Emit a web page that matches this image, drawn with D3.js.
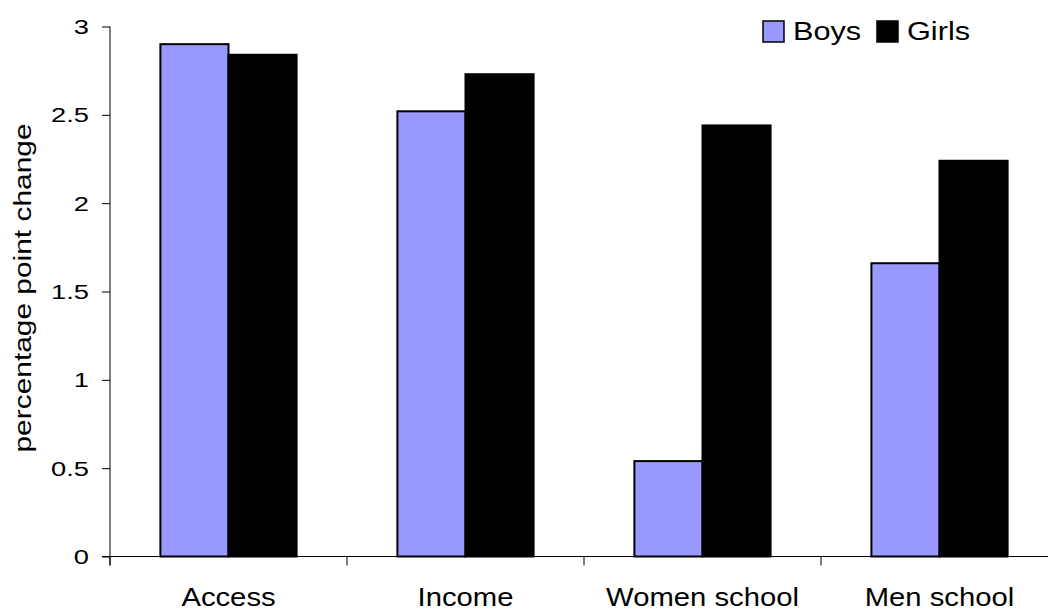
<!DOCTYPE html>
<html>
<head>
<meta charset="utf-8">
<script src="https://cdn.jsdelivr.net/npm/d3@7"></script>
<style>
  body { margin: 0; background: #fff; }
  text { font-family: "Liberation Sans", Arial, sans-serif; fill: #000; }
</style>
</head>
<body>
<div id="chart"></div>
<script>
var categories = ['Access', 'Income', 'Women school', 'Men school'];
var seriesNames = ['Boys', 'Girls'];
var seriesColors = ['#9999ff', '#000000'];
var boys = [2.9, 2.52, 0.54, 1.66];
var girls = [2.84, 2.73, 2.44, 2.24];
var yTicks = [0, 0.5, 1, 1.5, 2, 2.5, 3];

var width = 1048,
    height = 613,
    plotLeft = 110,
    plotRight = 1058,   // the plot runs past the window edge in the original
    plotTop = 26.5,
    plotBottom = 556.5
;

var rows = categories.map(function (c, i) {
  return { cat: c, values: [boys[i], girls[i]] };
});

var svg = d3.select('#chart')
  .append('svg')
    .attr('width', width)
    .attr('height', height);

var x0 = d3.scaleBand()
  .domain(categories)
  .range([plotLeft, plotRight])
  .padding(0);

var x1 = d3.scaleBand()
  .domain(seriesNames)
  .range([0, x0.bandwidth()])
  .paddingInner(0)
  .paddingOuter(0.74);

var y = d3.scaleLinear()
  .domain([0, 3])
  .range([plotBottom, plotTop]);

// bars
var groups = svg.selectAll('g.cat')
  .data(rows)
  .enter()
  .append('g')
    .classed('cat', true)
    .attr('transform', function (d) { return 'translate(' + x0(d.cat) + ',0)'; });

groups.selectAll('rect')
  .data(function (d) {
    return d.values.map(function (v, i) { return { name: seriesNames[i], v: v, color: seriesColors[i] }; });
  })
  .enter()
  .append('rect')
    .attr('x', function (d) { return x1(d.name); })
    .attr('y', function (d) { return y(d.v); })
    .attr('width', x1.bandwidth())
    .attr('height', function (d) { return plotBottom - y(d.v); })
    .style('fill', function (d) { return d.color; })
    .style('stroke', '#000')
    .style('stroke-width', 2)
    ;

// y axis: ticks from d3, labels drawn by hand so they can be stretched
var yAxis = svg.append('g')
  .attr('transform', 'translate(' + plotLeft + ',0)')
  .call(d3.axisLeft(y).tickValues(yTicks).tickSize(8).tickFormat(''));

yAxis.select('.domain').remove();
yAxis.append('line')
  .attr('x1', 0).attr('x2', 0)
  .attr('y1', plotTop).attr('y2', plotBottom + 9)
  .style('stroke', '#000');
yAxis.selectAll('.tick line').style('stroke', '#000');

svg.append('g')
  .selectAll('text')
  .data(yTicks)
  .enter()
  .append('text')
    .attr('transform', function (d) {
      return 'translate(' + (plotLeft - 21) + ',' + (y(d) + 7.5) + ') scale(1.3,1)';
    })
    .style('font-size', '21px')
    .style('text-anchor', 'end')
    .text(function (d) { return d; });

// x axis
var xAxis = svg.append('g');

xAxis.append('line')
  .attr('x1', plotLeft - 8).attr('x2', width)
  .attr('y1', plotBottom).attr('y2', plotBottom)
  .style('stroke', '#000');

xAxis.selectAll('line.xtick')
  .data(categories.concat(['end']))
  .enter()
  .append('line')
    .classed('xtick', true)
    .attr('x1', function (d, i) { return plotLeft + i * x0.step(); })
    .attr('x2', function (d, i) { return plotLeft + i * x0.step(); })
    .attr('y1', plotBottom)
    .attr('y2', plotBottom + 9)
    .style('stroke', '#000');

xAxis.selectAll('text')
  .data(categories)
  .enter()
  .append('text')
    .attr('transform', function (d) {
      return 'translate(' + (x0(d) + x0.bandwidth() / 2) + ',606) scale(1.17,1)';
    })
    .style('font-size', '25px')
    .style('text-anchor', 'middle')
    .text(function (d) { return d; });

// y label
svg.append('text')
  .attr('transform', 'translate(31,288) rotate(-90)')
  .attr('textLength', 329)
  .attr('lengthAdjust', 'spacingAndGlyphs')
  .style('font-size', '23px')
  .style('text-anchor', 'middle')
  .text('percentage point change');

// legend
var legendX = [763, 877];
var legend = svg.selectAll('g.legend')
  .data(seriesNames)
  .enter()
  .append('g')
    .classed('legend', true)
    .attr('transform', function (d, i) { return 'translate(' + legendX[i] + ',21)'; });

legend.append('rect')
  .attr('width', 21)
  .attr('height', 21)
  .style('fill', function (d, i) { return seriesColors[i]; })
  .style('stroke', '#000')
  .style('stroke-width', 1.5);

legend.append('text')
  .attr('transform', 'translate(30,19) scale(1.18,1)')
  .style('font-size', '26px')
  .text(function (d) { return d; });
</script>
</body>
</html>
